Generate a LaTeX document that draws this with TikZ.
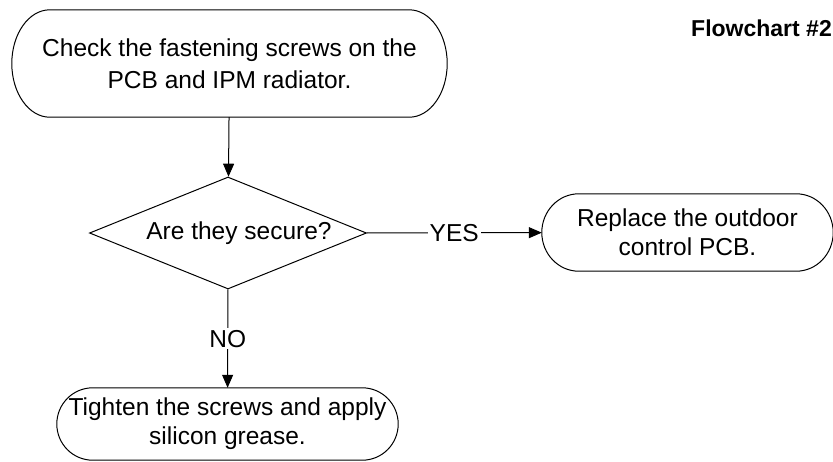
\documentclass[tikz,border=0pt]{standalone}
\usepackage{fontspec}
\setmainfont{Liberation Sans}
\usepackage{tikz}
\usetikzlibrary{shapes.geometric}
\usetikzlibrary{arrows.meta}
\usetikzlibrary{calc}
\tikzstyle{Edge}=[draw=black,line width=1pt]
\tikzstyle{Arrow}=[Edge,-{Triangle[length=13pt,width=11pt]}]
\tikzstyle{NodeT}=[inner sep=0pt,align=center,
font=\fontsize{24.5pt}{29pt}\selectfont]
\tikzstyle{Decision}=[diamond,draw=black,line width=1pt,inner sep=0pt,
minimum width=277pt,minimum height=112pt]
\tikzstyle{Label}=[fill=white,inner sep=2pt,font=\fontsize{24.5pt}{29pt}\selectfont]
% outline of a terminal: flat top and bottom, elliptic ends
\newcommand{\Terminal}[2]{%
  \draw[Edge] let \p1=(#1.north), \p2=(#1.south), \n1={0.5*(\y1-\y2)} in
    ([xshift=#2]#1.north west) -- ([xshift=-#2]#1.north east)
    arc[start angle=90,end angle=-90,x radius=#2,y radius=\n1]
    -- ([xshift=#2]#1.south west)
    arc[start angle=270,end angle=90,x radius=#2,y radius=\n1] -- cycle;}

\begin{document}
\begin{tikzpicture}[x=1pt,y=1pt]
    \useasboundingbox (0,0) rectangle (833,-461);
        \node[NodeT,font=\fontsize{24.5pt}{32pt}\selectfont,
            minimum width=435pt,minimum height=107pt](check)
            at(229.5,-63.5)
            {Check the fastening screws on the\\PCB and IPM radiator.};
        \node[Decision,label={[NodeT,xshift=11pt]center:Are they secure?}]
            (secure)at(228,-233){};
        \node[NodeT,minimum width=291pt,minimum height=77pt](replace)
            at(687.5,-232.5){Replace the outdoor\\control PCB.};
        \node[NodeT,minimum width=341pt,minimum height=72pt](tighten)
            at(227.5,-424){Tighten the screws and apply\\silicon grease.};
        \node[NodeT,anchor=east,font=\bfseries\fontsize{23pt}{28pt}\selectfont]
            (title)at(832,-28){Flowchart \#2};
        \Terminal{check}{38pt}
        \Terminal{replace}{37pt}
        \Terminal{tighten}{36pt}
        \draw[Arrow](check)--(secure);
        \draw[Arrow](secure)--node[Label]{YES}(replace);
        \draw[Arrow](secure)--node[Label]{NO}(tighten);
    \end{tikzpicture}
\end{document}
